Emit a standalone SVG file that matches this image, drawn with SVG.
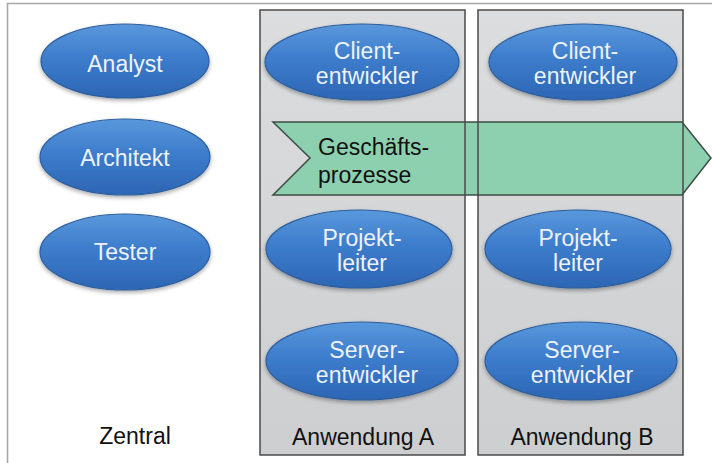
<svg xmlns="http://www.w3.org/2000/svg" width="712" height="463" viewBox="0 0 712 463">
<defs>
<linearGradient id="blue" x1="0" y1="0" x2="0" y2="1">
<stop offset="0" stop-color="#5a98dc"/>
<stop offset="0.45" stop-color="#3d7dcc"/>
<stop offset="1" stop-color="#2c66b4"/>
</linearGradient>
<linearGradient id="gray" x1="0" y1="0" x2="0" y2="1">
<stop offset="0" stop-color="#dcdddf"/>
<stop offset="1" stop-color="#cdced0"/>
</linearGradient>
<filter id="sh" x="-20%" y="-20%" width="140%" height="150%">
<feGaussianBlur in="SourceAlpha" stdDeviation="2"/>
<feOffset dy="2"/>
<feComponentTransfer><feFuncA type="linear" slope="0.35"/></feComponentTransfer>
<feMerge><feMergeNode/><feMergeNode in="SourceGraphic"/></feMerge>
</filter>
</defs>
<style>
.ell{fill:url(#blue);stroke:#2d5e9e;stroke-width:1.2;filter:url(#sh)}
.et{font-family:"Liberation Sans",Arial,sans-serif;font-size:23px;fill:#eef2f8;text-anchor:middle}
.zone{fill:url(#gray)}
.zs{fill:none;stroke:#4a4a4a;stroke-width:1.5}
.lab{font-family:"Liberation Sans",Arial,sans-serif;font-size:23px;fill:#111;text-anchor:middle}
</style>
<rect x="0" y="0" width="712" height="463" fill="#ffffff"/>
<path d="M7.5 463 V3.5 H712" fill="none" stroke="#a8a8a8" stroke-width="1.6"/>

<g id="zoneA-bg"><rect class="zone" x="260" y="10" width="205" height="445"/></g>
<g id="zoneB-bg"><rect class="zone" x="478" y="10" width="205" height="445"/></g>

<g id="geschaeftsprozesse">
<polygon points="273,122 682,122 711,158 682,195 273,195 310,158" fill="#8dd0b0" stroke="#3c4d44" stroke-width="1.5"/>
<text x="318" y="155" font-family="Liberation Sans,Arial,sans-serif" font-size="23" fill="#111">Geschäfts-</text>
<text x="318" y="183" font-family="Liberation Sans,Arial,sans-serif" font-size="23" fill="#111">prozesse</text>
</g>

<g id="zoneA">
<rect class="zs" x="260" y="10" width="205" height="445"/>
<text class="lab" x="363" y="445">Anwendung A</text>
</g>
<g id="zoneB">
<rect class="zs" x="478" y="10" width="205" height="445"/>
<text class="lab" x="582" y="445">Anwendung B</text>
</g>
<g id="zentral">
<text class="lab" x="135" y="444">Zentral</text>
</g>

<g id="analyst"><ellipse class="ell" cx="125" cy="61" rx="84" ry="37"/><text class="et" x="125" y="72">Analyst</text></g>
<g id="architekt"><ellipse class="ell" cx="125" cy="157" rx="85" ry="38"/><text class="et" x="125" y="166">Architekt</text></g>
<g id="tester"><ellipse class="ell" cx="125" cy="252" rx="85" ry="38"/><text class="et" x="125" y="260">Tester</text></g>

<g id="clientA"><ellipse class="ell" cx="362" cy="62" rx="97" ry="38"/><text class="et" x="367" y="59">Client-</text><text class="et" x="367" y="84">entwickler</text></g>
<g id="projektA"><ellipse class="ell" cx="359" cy="249" rx="93" ry="39"/><text class="et" x="362" y="246">Projekt-</text><text class="et" x="362" y="271">leiter</text></g>
<g id="serverA"><ellipse class="ell" cx="362" cy="361" rx="96" ry="39"/><text class="et" x="367" y="358">Server-</text><text class="et" x="367" y="383">entwickler</text></g>

<g id="clientB"><ellipse class="ell" cx="583" cy="62" rx="94" ry="38"/><text class="et" x="585" y="59">Client-</text><text class="et" x="585" y="84">entwickler</text></g>
<g id="projektB"><ellipse class="ell" cx="578" cy="249" rx="93" ry="39"/><text class="et" x="578" y="246">Projekt-</text><text class="et" x="578" y="271">leiter</text></g>
<g id="serverB"><ellipse class="ell" cx="581" cy="361" rx="96" ry="39"/><text class="et" x="582" y="358">Server-</text><text class="et" x="582" y="383">entwickler</text></g>

<g id="connectors"></g>
</svg>
